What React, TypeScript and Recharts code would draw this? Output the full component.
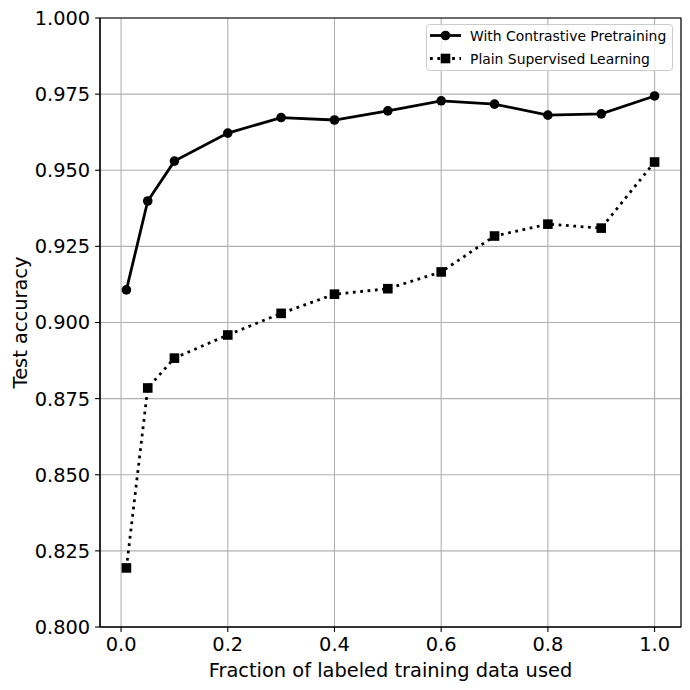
import React from "react";
import {
  LineChart,
  Line,
  XAxis,
  YAxis,
  CartesianGrid,
  ReferenceArea,
  Legend,
} from "recharts";

const fractions = [0.01, 0.05, 0.1, 0.2, 0.3, 0.4, 0.5, 0.6, 0.7, 0.8, 0.9, 1.0];
const contrastive = [0.9107, 0.9399, 0.953, 0.9622, 0.9673, 0.9665, 0.9695, 0.9728, 0.9717, 0.9681, 0.9685, 0.9744];
const supervised = [0.8194, 0.8785, 0.8883, 0.8959, 0.903, 0.9093, 0.9111, 0.9166, 0.9284, 0.9323, 0.931, 0.9527];
const xTicks = [0, 0.2, 0.4, 0.6, 0.8, 1.0];
const yTicks = [0.8, 0.825, 0.85, 0.875, 0.9, 0.925, 0.95, 0.975, 1.0];
const seriesNames = ["With Contrastive Pretraining", "Plain Supervised Learning"];
const xLabel = "Fraction of labeled training data used";
const yLabel = "Test accuracy";

const data = fractions.map((f, i) => ({ f, c: contrastive[i], s: supervised[i] }));

const X_DOMAIN: [number, number] = [-0.0395, 1.0495];
const Y_DOMAIN: [number, number] = [0.8, 1.0];
const FONT = "DejaVu Sans";
const LW = 2.78;
const DOTS = "2.78 4.58";
const MS = 9.6;

const SquareDot = (props: any) => {
  const { cx, cy, index } = props;
  if (cx == null || cy == null) return <g key={`sq-${index}`} />;
  return <rect key={`sq-${index}`} x={cx - MS / 2} y={cy - MS / 2} width={MS} height={MS} fill="#000" />;
};

const CircleDot = (props: any) => {
  const { cx, cy, index } = props;
  if (cx == null || cy == null) return <g key={`ci-${index}`} />;
  return <circle key={`ci-${index}`} cx={cx} cy={cy} r={MS / 2} fill="#000" />;
};

const LegendBox = () => (
  <svg width={248} height={48} style={{ display: "block" }}>
    <rect x={0.5} y={0.5} width={246} height={46} rx={3} ry={3} fill="rgba(255,255,255,0.8)" stroke="#cccccc" strokeWidth={1} />
    <line x1={4} y1={11.5} x2={35} y2={11.5} stroke="#000" strokeWidth={LW} />
    <circle cx={19.5} cy={11.5} r={MS / 2} fill="#000" />
    <text x={44} y={11.5} dominantBaseline="central" fontFamily={FONT} fontSize={13.9} fill="#000">
      {seriesNames[0]}
    </text>
    <line x1={4} y1={34.5} x2={35} y2={34.5} stroke="#000" strokeWidth={LW} strokeDasharray={DOTS} />
    <rect x={19.5 - MS / 2} y={34.5 - MS / 2} width={MS} height={MS} fill="#000" />
    <text x={44} y={34.5} dominantBaseline="central" fontFamily={FONT} fontSize={13.9} fill="#000">
      {seriesNames[1]}
    </text>
  </svg>
);

const tickStyle = { fill: "#000", fontSize: 19.4, fontFamily: FONT };
const lineStyle = { stroke: "#000", strokeWidth: 1.1 };

export default function App() {
  return (
    <div style={{ width: 690, height: 690, background: "#fff" }}>
      <style>{"body{margin:0;background:#fff}"}</style>
      <LineChart width={690} height={690} data={data} margin={{ top: 18, right: 9, left: 0, bottom: 0 }}>
        <CartesianGrid stroke="#b0b0b0" strokeWidth={1.1} />
        <XAxis
          dataKey="f"
          type="number"
          domain={X_DOMAIN}
          allowDataOverflow
          ticks={xTicks}
          tickFormatter={(v: number) => v.toFixed(1)}
          height={63}
          tick={tickStyle}
          tickLine={lineStyle}
          axisLine={lineStyle}
          tickSize={4.9}
          tickMargin={4.9}
          label={{
            content: (p: any) => {
              const vb = p.viewBox || { x: 100, width: 580 };
              return (
                <text x={vb.x + vb.width / 2} y={677} textAnchor="middle" fontFamily={FONT} fontSize={19.4} fill="#000">
                  {xLabel}
                </text>
              );
            },
          }}
        />
        <YAxis
          type="number"
          domain={Y_DOMAIN}
          allowDataOverflow
          ticks={yTicks}
          tickFormatter={(v: number) => v.toFixed(3)}
          width={100}
          tick={tickStyle}
          tickLine={lineStyle}
          axisLine={lineStyle}
          tickSize={4.9}
          tickMargin={4.9}
          label={{
            content: (p: any) => {
              const vb = p.viewBox || { y: 18, height: 609 };
              const cy = vb.y + vb.height / 2;
              return (
                <text
                  x={20}
                  y={cy}
                  transform={`rotate(-90, 20, ${cy})`}
                  textAnchor="middle"
                  dominantBaseline="central"
                  fontFamily={FONT}
                  fontSize={19.4}
                  fill="#000"
                >
                  {yLabel}
                </text>
              );
            },
          }}
        />
        <Line
          dataKey="c"
          name={seriesNames[0]}
          stroke="#000"
          strokeWidth={LW}
          dot={CircleDot}
          activeDot={false}
          isAnimationActive={false}
        />
        <Line
          dataKey="s"
          name={seriesNames[1]}
          stroke="#000"
          strokeWidth={LW}
          strokeDasharray={DOTS}
          dot={SquareDot}
          activeDot={false}
          isAnimationActive={false}
        />
        <ReferenceArea
          x1={X_DOMAIN[0]}
          x2={X_DOMAIN[1]}
          y1={Y_DOMAIN[0]}
          y2={Y_DOMAIN[1]}
          fill="none"
          fillOpacity={0}
          stroke="#000"
          strokeWidth={1.1}
          ifOverflow="visible"
        />
        <Legend
          layout="horizontal"
          verticalAlign="middle"
          align="center"
          content={() => <LegendBox />}
          wrapperStyle={{ position: "absolute", left: 426, top: 24, width: 248, height: 48 }}
        />
      </LineChart>
    </div>
  );
}
